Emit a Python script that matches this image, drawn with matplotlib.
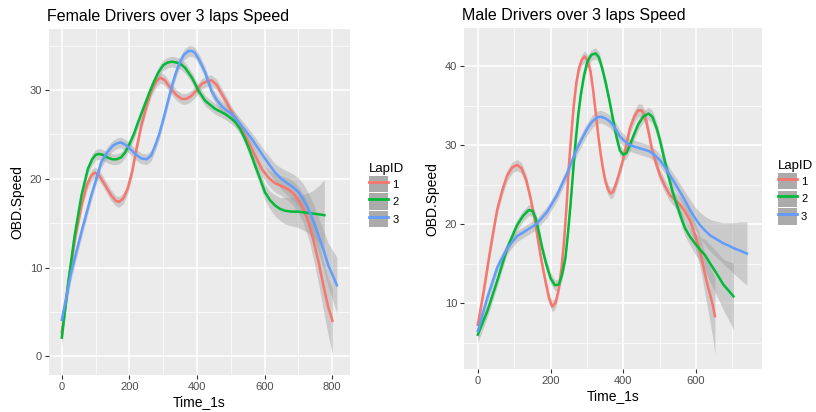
import matplotlib.pyplot as plt
from matplotlib.lines import Line2D
from matplotlib.patches import Patch
import numpy as np

plt.rcParams["font.family"] = ["Liberation Sans", "DejaVu Sans"]

# Female drivers, smoothed speed per lap
f1_x = [0, 20, 40, 60, 75, 88, 98, 110, 125, 145, 160, 170, 182, 195, 208, 220, 235, 250, 265,
        280, 292, 305, 320, 340, 355, 368, 382, 400, 414, 430, 443, 458, 473, 488, 503, 532,
        562, 592, 612, 631, 650, 671, 686, 700, 715, 730, 745, 760, 774, 788, 801]
f1_y = [2.7, 8.5, 13.5, 17.3, 19.4, 20.4, 20.7, 20.4, 19.5, 18.2, 17.5, 17.4, 17.8, 18.9, 20.8,
        23.2, 26.0, 28.1, 29.9, 31.0, 31.4, 31.1, 30.3, 29.4, 29.0, 29.0, 29.3, 30.0, 30.7, 31.0,
        31.1, 30.6, 29.6, 28.6, 27.5, 25.6, 23.4, 21.1, 20.1, 19.5, 19.2, 18.8, 18.3, 17.6, 16.6,
        15.1, 13.0, 10.6, 8.0, 5.6, 4.0]
f1_se = [1.0, 0.8, 0.7, 0.6, 0.6, 0.6, 0.6, 0.6, 0.6, 0.6, 0.6, 0.6, 0.6, 0.6, 0.6, 0.6, 0.6,
         0.6, 0.6, 0.6, 0.6, 0.6, 0.6, 0.6, 0.6, 0.6, 0.6, 0.6, 0.6, 0.6, 0.6, 0.6, 0.6, 0.6,
         0.6, 0.6, 0.7, 0.8, 0.9, 1.0, 1.1, 1.3, 1.4, 1.5, 1.6, 1.8, 2.1, 2.5, 2.8, 3.2, 3.8]

f2_x = [0, 18, 38, 58, 77, 90, 100, 110, 122, 135, 150, 162, 175, 188, 200, 213, 226, 241, 256,
        271, 286, 300, 313, 326, 340, 353, 365, 385, 405, 424, 440, 453, 468, 483, 498, 513,
        528, 542, 557, 572, 587, 601, 616, 631, 646, 661, 680, 700, 720, 740, 760, 777]
f2_y = [2.1, 8.0, 13.6, 18.1, 21.1, 22.2, 22.7, 22.8, 22.7, 22.4, 22.2, 22.2, 22.4, 23.0, 23.9,
        25.0, 26.4, 27.9, 29.4, 30.8, 32.0, 32.8, 33.1, 33.2, 33.1, 32.9, 32.5, 31.4, 29.9, 28.8,
        28.3, 27.9, 27.6, 27.3, 26.9, 26.4, 25.6, 24.5, 23.1, 21.5, 20.0, 18.5, 17.6, 17.0, 16.6,
        16.4, 16.3, 16.3, 16.2, 16.1, 16.0, 15.9]
f2_se = [1.0, 0.8, 0.7, 0.6, 0.6, 0.6, 0.6, 0.6, 0.6, 0.6, 0.6, 0.6, 0.6, 0.6, 0.6, 0.6, 0.6,
         0.6, 0.6, 0.6, 0.6, 0.6, 0.6, 0.6, 0.6, 0.6, 0.6, 0.6, 0.6, 0.6, 0.6, 0.6, 0.6, 0.6,
         0.6, 0.6, 0.6, 0.6, 0.7, 0.7, 0.8, 0.9, 1.0, 1.2, 1.3, 1.5, 1.6, 1.8, 2.1, 2.5, 3.2, 4.0]

f3_x = [0, 28, 58, 87, 117, 135, 150, 163, 175, 190, 207, 220, 235, 251, 264, 276, 288, 301,
        313, 326, 338, 350, 362, 375, 385, 394, 408, 424, 443, 458, 473, 488, 503, 532, 562,
        592, 612, 631, 650, 671, 686, 700, 715, 730, 745, 760, 775, 789, 802, 814]
f3_y = [4.1, 9.5, 14.0, 18.1, 21.9, 23.0, 23.7, 24.0, 24.1, 23.8, 23.2, 22.7, 22.3, 22.2, 22.6,
        23.7, 25.0, 26.8, 28.6, 30.5, 32.0, 33.2, 34.0, 34.4, 34.4, 34.2, 33.3, 32.0, 29.9, 28.9,
        28.2, 27.7, 27.3, 26.0, 24.5, 22.8, 21.7, 20.7, 20.0, 19.4, 19.0, 18.5, 17.7, 16.6, 15.2,
        13.6, 11.9, 10.2, 9.1, 8.0]
f3_se = [1.0, 0.8, 0.7, 0.6, 0.6, 0.6, 0.6, 0.6, 0.6, 0.6, 0.6, 0.6, 0.6, 0.6, 0.6, 0.6, 0.6,
         0.6, 0.6, 0.6, 0.6, 0.6, 0.6, 0.6, 0.6, 0.6, 0.6, 0.6, 0.6, 0.6, 0.6, 0.6, 0.6, 0.65,
         0.7, 0.8, 0.9, 1.0, 1.2, 1.4, 1.5, 1.6, 1.7, 1.8, 1.9, 2.0, 2.2, 2.5, 2.8, 3.2]

# Male drivers
m1_x = [0, 16, 35, 53, 68, 81, 95, 108, 120, 133, 145, 155, 163, 175, 186, 196, 205, 214, 223,
        230, 237, 244, 250, 257, 264, 271, 278, 286, 294, 302, 310, 317, 324, 331, 338, 345,
        351, 358, 365, 372, 382, 391, 400, 409, 418, 430, 441, 451, 460, 469, 478, 490, 501,
        515, 528, 542, 556, 570, 584, 595, 606, 616, 625, 632, 639, 646, 652]
m1_y = [7.3, 11.5, 17.0, 21.8, 24.4, 26.2, 27.2, 27.5, 27.1, 25.6, 23.3, 21.0, 18.7, 15.4, 12.8,
        10.6, 9.6, 10.1, 11.9, 14.4, 17.8, 22.2, 27.1, 31.3, 35.1, 37.9, 39.7, 40.8, 41.2, 40.7,
        39.3, 37.0, 34.2, 31.3, 28.8, 26.8, 25.4, 24.4, 23.9, 24.1, 25.4, 26.8, 28.3, 30.2, 32.1,
        33.6, 34.4, 34.4, 33.6, 31.8, 29.6, 27.7, 26.2, 24.8, 23.7, 23.1, 22.5, 21.6, 20.4, 19.0,
        17.4, 15.6, 13.6, 12.3, 11.1, 9.8, 8.4]
m1_se = [1.0, 0.8, 0.7, 0.7, 0.7, 0.7, 0.7, 0.7, 0.7, 0.7, 0.7, 0.7, 0.7, 0.7, 0.7, 0.7, 0.7,
         0.7, 0.7, 0.7, 0.7, 0.7, 0.7, 0.7, 0.7, 0.7, 0.7, 0.7, 0.7, 0.7, 0.7, 0.7, 0.7, 0.7,
         0.7, 0.7, 0.7, 0.7, 0.7, 0.7, 0.7, 0.7, 0.7, 0.7, 0.7, 0.8, 0.8, 0.8, 0.8, 0.8, 0.8,
         0.8, 0.8, 0.8, 0.8, 0.9, 1.0, 1.1, 1.2, 1.5, 1.8, 2.1, 2.5, 3.0, 3.5, 4.1, 4.8]

m2_x = [0, 26, 53, 81, 108, 125, 140, 150, 159, 168, 177, 188, 200, 212, 223, 232, 241, 248,
        255, 262, 269, 276, 283, 292, 301, 312, 324, 333, 342, 352, 362, 372, 382, 391, 400,
        409, 418, 430, 441, 455, 469, 480, 492, 501, 510, 519, 528, 537, 547, 558, 570, 584,
        597, 611, 625, 637, 648, 662, 675, 690, 703]
m2_y = [6.05, 9.0, 12.8, 17.0, 19.9, 21.1, 21.8, 21.7, 20.8, 19.0, 17.0, 15.0, 13.2, 12.3, 12.4,
        13.7, 15.8, 18.9, 22.5, 26.6, 30.5, 33.7, 36.3, 38.8, 40.5, 41.4, 41.6, 41.1, 39.7, 37.8,
        35.6, 33.2, 30.9, 29.3, 28.8, 29.0, 30.0, 31.4, 32.6, 33.6, 34.0, 33.6, 32.1, 30.6, 28.8,
        27.1, 25.4, 23.9, 22.5, 21.0, 19.5, 18.4, 17.6, 16.8, 16.1, 15.2, 14.4, 13.4, 12.4, 11.6,
        10.9]
m2_se = [1.0, 0.8, 0.7, 0.7, 0.7, 0.7, 0.7, 0.7, 0.7, 0.7, 0.7, 0.7, 0.7, 0.7, 0.7, 0.7, 0.7,
         0.7, 0.7, 0.7, 0.7, 0.7, 0.7, 0.7, 0.7, 0.7, 0.7, 0.7, 0.7, 0.7, 0.7, 0.7, 0.7, 0.7,
         0.7, 0.7, 0.7, 0.7, 0.7, 0.7, 0.8, 0.8, 0.8, 0.8, 0.8, 0.8, 0.8, 0.8, 0.9, 0.9, 1.0,
         1.1, 1.3, 1.6, 2.0, 2.3, 2.6, 2.9, 3.2, 3.7, 4.2]

m3_x = [0, 26, 53, 81, 108, 136, 163, 191, 218, 246, 273, 301, 315, 328, 338, 350, 363, 377,
        391, 404, 418, 432, 446, 460, 473, 487, 501, 515, 528, 542, 556, 570, 584, 597, 611,
        625, 639, 657, 675, 690, 703, 720, 740]
m3_y = [6.5, 10.7, 14.5, 17.0, 18.5, 19.3, 20.1, 21.6, 23.7, 26.5, 29.6, 32.1, 33.0, 33.5, 33.6,
        33.4, 33.0, 32.2, 31.1, 30.5, 30.0, 29.8, 29.6, 29.4, 29.2, 28.7, 28.1, 27.2, 26.2, 25.2,
        24.1, 23.0, 21.8, 20.8, 19.9, 19.2, 18.6, 18.1, 17.6, 17.3, 17.0, 16.7, 16.3]
m3_se = [0.9, 0.7, 0.7, 0.7, 0.7, 0.7, 0.7, 0.7, 0.7, 0.7, 0.8, 0.8, 0.8, 0.8, 0.8, 0.8, 0.8,
         0.8, 0.8, 0.8, 0.8, 0.8, 0.8, 0.8, 0.8, 0.8, 0.8, 0.8, 0.9, 0.9, 1.0, 1.1, 1.3, 1.4,
         1.6, 1.8, 2.0, 2.3, 2.6, 2.9, 3.2, 3.6, 4.0]

laps = ["1", "2", "3"]
colors = ["#F8766D", "#00BA38", "#619CFF"]

female = [(f1_x, f1_y, f1_se), (f2_x, f2_y, f2_se), (f3_x, f3_y, f3_se)]
male = [(m1_x, m1_y, m1_se), (m2_x, m2_y, m2_se), (m3_x, m3_y, m3_se)]

fig = plt.figure(figsize=(8.16, 4.12), dpi=100)
ax1 = fig.add_axes([0.060, 0.090, 0.369, 0.840])
ax2 = fig.add_axes([0.5686, 0.104, 0.365, 0.828])


def draw(ax, series, title, xlim, ylim, xmaj, xmin, ymaj, ymin):
    ax.set_facecolor("#EBEBEB")
    for x, y, se in series:
        x = np.array(x, dtype=float)
        y = np.array(y, dtype=float)
        se = np.array(se, dtype=float)
        ax.fill_between(x, y - se, y + se, color="#999999", alpha=0.4, lw=0, zorder=2)
    for (x, y, se), c in zip(series, colors):
        ax.plot(x, y, color=c, lw=1.8, zorder=3, solid_joinstyle="round")
    ax.set_xlim(*xlim)
    ax.set_ylim(*ylim)
    ax.set_xticks(xmaj)
    ax.set_xticks(xmin, minor=True)
    ax.set_yticks(ymaj)
    ax.set_yticks(ymin, minor=True)
    ax.grid(which="major", color="white", lw=1.1, zorder=0)
    ax.grid(which="minor", color="white", lw=0.5, zorder=0)
    ax.set_axisbelow(True)
    for s in ax.spines.values():
        s.set_visible(False)
    ax.tick_params(which="major", length=3, color="#333333", labelsize=8,
                   labelcolor="#4D4D4D", pad=2)
    ax.tick_params(which="minor", length=0)
    ax.set_xlabel("Time_1s", fontsize=10, labelpad=2)
    ax.set_ylabel("OBD.Speed", fontsize=10, labelpad=4)
    ax.set_title(title, fontsize=11.5, loc="left", pad=6, x=-0.005)


draw(ax1, female, "Female Drivers over 3 laps Speed", (-38, 853), (-2.1, 36.9),
     [0, 200, 400, 600, 800], [100, 300, 500, 700], [0, 10, 20, 30], [5, 15, 25, 35])
draw(ax2, male, "Male Drivers over 3 laps Speed", (-38, 781), (1.7, 44.8),
     [0, 200, 400, 600], [100, 300, 500, 700], [10, 20, 30, 40], [5, 15, 25, 35])

handles = [(Patch(facecolor="#ABABAB", edgecolor="none"), Line2D([], [], color=c, lw=2))
           for c in colors]

for anchor in [(0.452, 0.605), (0.953, 0.612)]:
    leg = fig.legend(handles, laps, title="LapID", loc="upper left", bbox_to_anchor=anchor,
                     frameon=False, fontsize=8, title_fontsize=9.5, handlelength=1.7,
                     handleheight=1.9, handletextpad=0.4, labelspacing=0.1,
                     borderaxespad=0, borderpad=0)
    leg._legend_box.align = "left"

fig.savefig("out.png", dpi=100)
